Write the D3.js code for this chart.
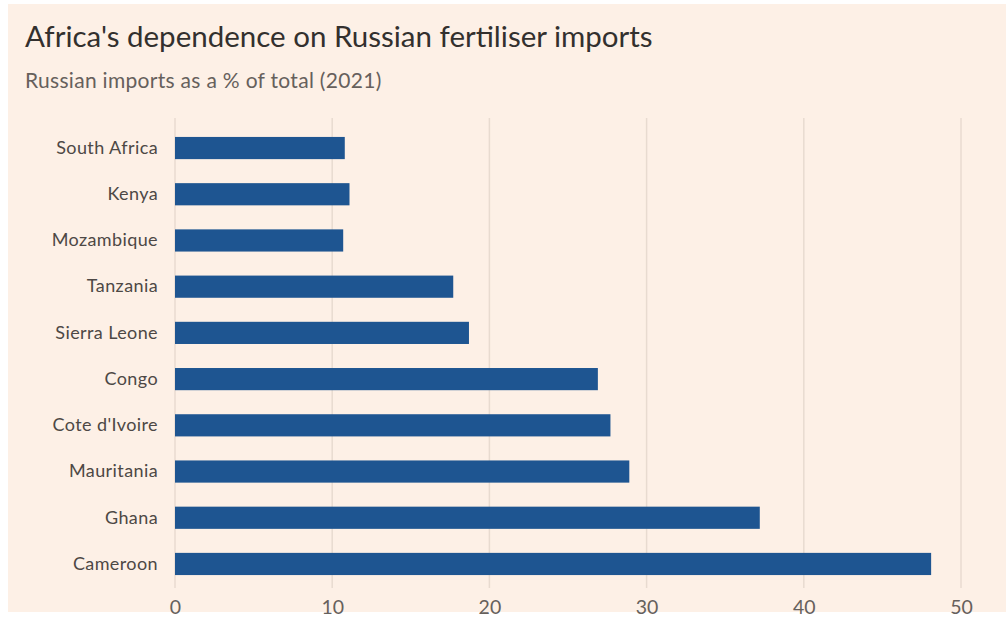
<!DOCTYPE html>
<html>
<head>
<meta charset="utf-8">
<script src="https://cdn.jsdelivr.net/npm/d3@7"></script>
<style>
  body { margin: 0; background: #ffffff; }
  text { font-family: Lato, "Open Sans", sans-serif; }
</style>
</head>
<body>
<div id="chart"></div>
<script>
// data
var countries = ["South Africa", "Kenya", "Mozambique", "Tanzania", "Sierra Leone",
  "Congo", "Cote d'Ivoire", "Mauritania", "Ghana", "Cameroon"];
var shares = [10.8, 11.1, 10.7, 17.7, 18.7, 26.9, 27.7, 28.9, 37.2, 48.1];
var xTicks = [0, 10, 20, 30, 40, 50];

var svgWidth = 1006;
var svgHeight = 622;

var svg = d3.select("#chart")
  .append("svg")
  .attr("width", svgWidth)
  .attr("height", svgHeight);

// pink panel
svg.append("rect")
  .attr("x", 8)
  .attr("y", 4)
  .attr("width", svgWidth - 8)
  .attr("height", 608)
  .attr("fill", "#fdf0e6");

svg.append("text")
  .attr("x", 25)
  .attr("y", 47)
  .attr("font-size", "29.5px")
  .attr("fill", "#33302e")
  .text("Africa's dependence on Russian fertiliser imports");

svg.append("text")
  .attr("x", 25)
  .attr("y", 88)
  .attr("font-size", "21px")
  .attr("letter-spacing", "0.3px")
  .attr("fill", "#66605c")
  .text("Russian imports as a % of total (2021)");

var x = d3.scaleLinear()
  .domain([0, 50])
  .range([175, 961]);

var y = d3.scaleBand()
  .domain(countries)
  .range([124, 588])
  .paddingInner(0.52)
  .paddingOuter(0.28);

// gridlines
svg.append("g")
  .selectAll("line")
  .data(xTicks)
  .enter()
  .append("line")
  .attr("x1", d => x(d))
  .attr("x2", d => x(d))
  .attr("y1", 118)
  .attr("y2", 588)
  .attr("stroke", "#e8dbd0")
  .attr("stroke-width", 1.5);

// x axis labels
var bottomAxis = d3.axisBottom(x).tickValues(xTicks).tickSize(0).tickPadding(0);
var xAxis = svg.append("g")
  .attr("transform", "translate(0, 600)")
  .call(bottomAxis);
xAxis.select(".domain").remove();
xAxis.selectAll("text")
  .attr("font-size", "19.5px")
  .attr("fill", "#66605c")
  .attr("font-family", "Lato, sans-serif");

// y axis labels
var leftAxis = d3.axisLeft(y).tickSize(0).tickPadding(0);
var yAxis = svg.append("g")
  .attr("transform", "translate(158, 0)")
  .call(leftAxis);
yAxis.select(".domain").remove();
yAxis.selectAll("text")
  .attr("font-size", "18px")
  .attr("letter-spacing", "0.4px")
  .attr("fill", "#4d4845")
  .attr("font-family", "Lato, sans-serif");

// bars
svg.append("g")
  .selectAll("rect")
  .data(countries)
  .enter()
  .append("rect")
  .attr("x", x(0))
  .attr("y", d => y(d))
  .attr("width", (d, i) => x(shares[i]) - x(0))
  .attr("height", y.bandwidth())
  .attr("fill", "#1e5591");
</script>
</body>
</html>
